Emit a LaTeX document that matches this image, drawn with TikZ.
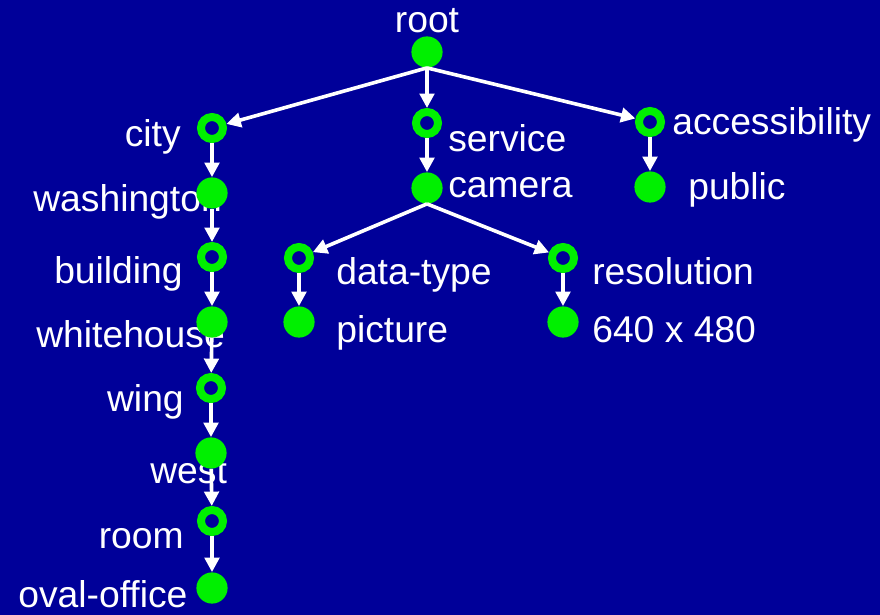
\documentclass[tikz,border=0pt]{standalone}
\usepackage{fontspec}
\setmainfont{Liberation Sans}
\usetikzlibrary{arrows.meta}
\definecolor{bgblue}{RGB}{0,0,153}
\definecolor{leafgreen}{RGB}{0,240,0}
\begin{document}
\begin{tikzpicture}[
            x=0.025cm, y=-0.025cm,
            lbl/.style={text=white,inner sep=0pt,font=\fontsize{26.5}{30}\selectfont},
            inner/.style={circle,draw=leafgreen,line width=0.2cm,minimum size=0.55cm,inner sep=0pt},
            leaf/.style={circle,fill=leafgreen,minimum size=0.78cm,inner sep=0pt},
            edge/.style={draw=white,line width=0.09cm,-{Triangle[length=0.36cm,width=0.36cm]}}
        ]
        \fill[bgblue] (0,0) rectangle (880,615);
        \useasboundingbox (0,0) rectangle (880,615);
        % labels
        \node[lbl,anchor=base] (root-l) at (427,33) {root};
        \node[lbl,anchor=base east] (city-l) at (181,147) {city};
        \node[lbl,anchor=base west] (washington-l) at (33,212) {washington};
        \node[lbl,anchor=base east] (building-l) at (183,284) {building};
        \node[lbl,anchor=base west] (whitehouse-l) at (36,348) {whitehouse};
        \node[lbl,anchor=base east] (wing-l) at (184,412) {wing};
        \node[lbl,anchor=base west] (west-l) at (150,483) {west};
        \node[lbl,anchor=base east] (room-l) at (184,548) {room};
        \node[lbl,anchor=base west] (oval-l) at (18,607) {oval-office};
        \node[lbl,anchor=base west] (service-l) at (448,152) {service};
        \node[lbl,anchor=base west] (camera-l) at (448,198) {camera};
        \node[lbl,anchor=base west] (access-l) at (672,135) {accessibility};
        \node[lbl,anchor=base west] (public-l) at (688,200) {public};
        \node[lbl,anchor=base west] (datatype-l) at (336,285) {data-type};
        \node[lbl,anchor=base west] (picture-l) at (336,343) {picture};
        \node[lbl,anchor=base west] (resolution-l) at (592,285) {resolution};
        \node[lbl,anchor=base west] (size-l) at (592,343) {640 x 480};
        % nodes
        \node[leaf] (root) at (427,52) {};
        \node[inner] (city) at (212,128) {};
        \node[leaf] (washington) at (212,193) {};
        \node[inner] (building) at (212,257) {};
        \node[leaf] (whitehouse) at (212,322) {};
        \node[inner] (wing) at (211,388) {};
        \node[leaf] (west) at (211,453) {};
        \node[inner] (room) at (212,521) {};
        \node[leaf] (oval) at (212,588) {};
        \node[inner] (service) at (427,123) {};
        \node[leaf] (camera) at (427,188) {};
        \node[inner] (access) at (650,122) {};
        \node[leaf] (public) at (650,187) {};
        \node[inner] (datatype) at (299,258) {};
        \node[leaf] (picture) at (299,322) {};
        \node[inner] (resolution) at (563,258) {};
        \node[leaf] (size) at (563,322) {};
        % edges
        \path[edge] (root.south) -- (city);
        \path[edge] (root.south) -- (service);
        \path[edge] (root.south) -- (access);
        \path[edge] (city) -- (washington);
        \path[edge] (washington) -- (building);
        \path[edge] (building) -- (whitehouse);
        \path[edge] (whitehouse) -- (wing);
        \path[edge] (wing) -- (west);
        \path[edge] (west) -- (room);
        \path[edge] (room) -- (oval);
        \path[edge] (service) -- (camera);
        \path[edge] (access) -- (public);
        \path[edge] (camera.south) -- (datatype);
        \path[edge] (camera.south) -- (resolution);
        \path[edge] (datatype) -- (picture);
        \path[edge] (resolution) -- (size);
    \end{tikzpicture}
\end{document}
